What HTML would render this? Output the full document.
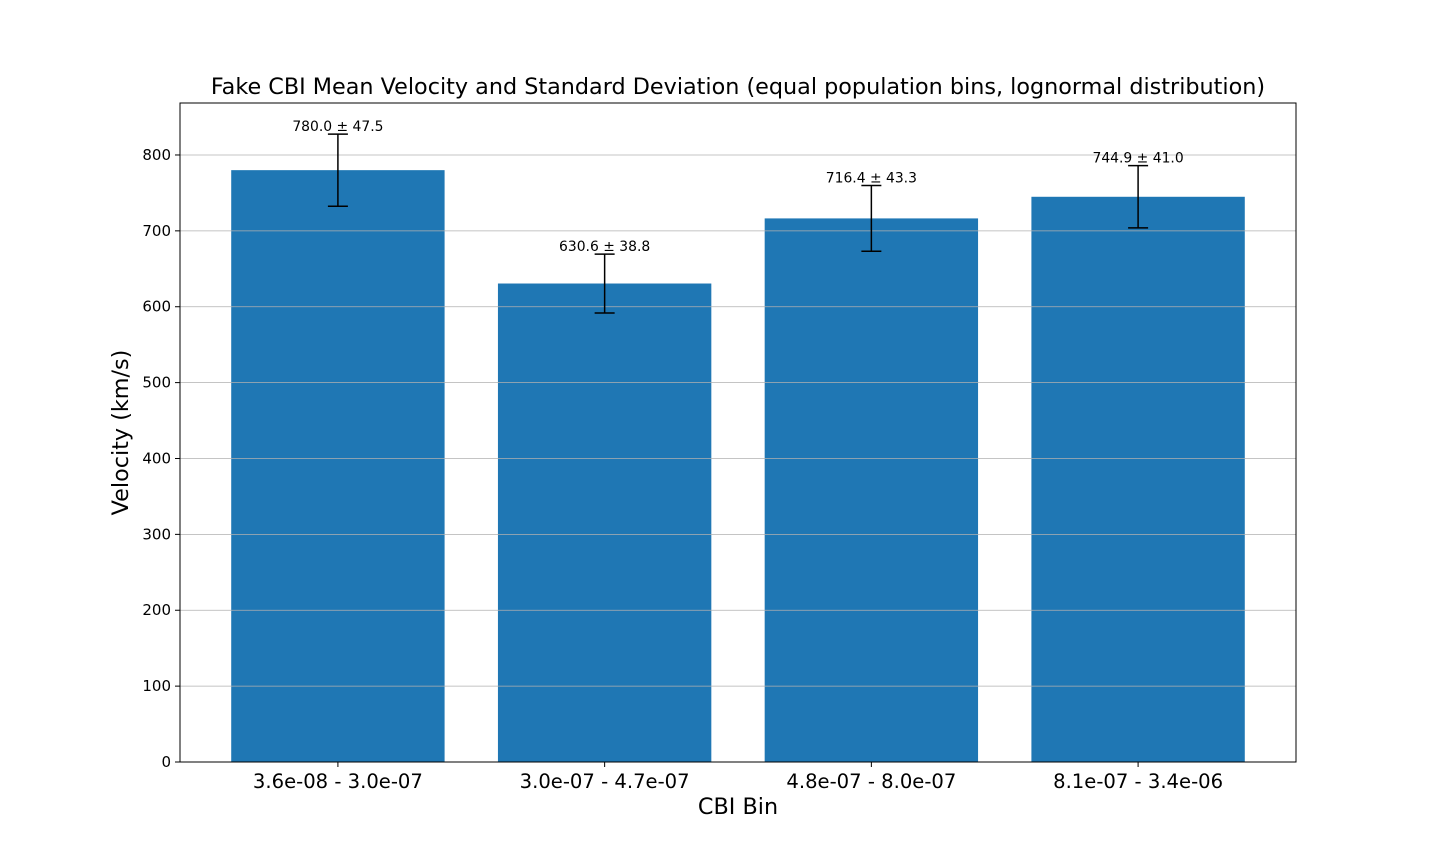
<!DOCTYPE html>
<html><head><meta charset="utf-8"><style>
html,body{margin:0;padding:0;background:#fff;}
svg text{font-family:"DejaVu Sans","Liberation Sans",sans-serif;}
</style></head><body>
<svg id="chart" width="1440" height="856" xmlns="http://www.w3.org/2000/svg"></svg>
<script>
const categories = ["3.6e-08 - 3.0e-07","3.0e-07 - 4.7e-07","4.8e-07 - 8.0e-07","8.1e-07 - 3.4e-06"];
const means = [780.0, 630.6, 716.4, 744.9];
const stds = [47.5, 38.8, 43.3, 41.0];
const yTicks = [0,100,200,300,400,500,600,700,800];

const L=180,R=1296,T=103,B=762;
const yMax=868.5, xMin=-0.592, xMax=3.592;
const y=v=>B-(v/yMax)*(B-T);
const x=v=>L+(v-xMin)/(xMax-xMin)*(R-L);
const svg=document.getElementById('chart');
const NS='http://www.w3.org/2000/svg';
function mk(tag,attrs,parent){const e=document.createElementNS(NS,tag);for(const k in attrs)e.setAttribute(k,attrs[k]);(parent||svg).appendChild(e);return e;}

categories.forEach((c,i)=>{
  const bw=0.8*(x(1)-x(0));
  const r=mk('rect',{x:x(i)-bw/2,y:y(means[i]),width:bw,height:B-y(means[i]),fill:'#1f77b4'});
  
  
});
yTicks.forEach(t=>{
  const g=mk('line',{x1:L,x2:R,y1:y(t),y2:y(t),stroke:'#b0b0b0','stroke-width':0.8});
  
  
});
categories.forEach((c,i)=>{
  const cx=x(i),top=y(means[i]+stds[i]),bot=y(means[i]-stds[i]);
  const eg=mk('g',{stroke:'#000','stroke-width':1.5});
  
  
  mk('line',{x1:cx,x2:cx,y1:top,y2:bot},eg);
  mk('line',{x1:cx-10,x2:cx+10,y1:top,y2:top},eg);
  mk('line',{x1:cx-10,x2:cx+10,y1:bot,y2:bot},eg);
  const t=mk('text',{x:cx,y:top-3,'text-anchor':'middle','font-size':13.9});
  t.textContent=means[i].toFixed(1)+' ± '+stds[i].toFixed(1);
  
  
  const xt=mk('line',{x1:cx,x2:cx,y1:B,y2:B+5,stroke:'#000','stroke-width':1});
  
  
  const xl=mk('text',{x:cx,y:B+26,'text-anchor':'middle','font-size':19.6});
  xl.textContent=c;
  
  
});
yTicks.forEach(t=>{
  const tk=mk('line',{x1:L-5,x2:L,y1:y(t),y2:y(t),stroke:'#000','stroke-width':1});
  
  
  const tl=mk('text',{x:L-9,y:y(t)+5,'text-anchor':'end','font-size':15});
  tl.textContent=t;
  
  
});
const fr=mk('rect',{x:L,y:T,width:R-L,height:B-T,fill:'none',stroke:'#000','stroke-width':1});


const tt=mk('text',{x:(L+R)/2,y:94,'text-anchor':'middle','font-size':22.3});
tt.textContent='Fake CBI Mean Velocity and Standard Deviation (equal population bins, lognormal distribution)';


const xa=mk('text',{x:(L+R)/2,y:814,'text-anchor':'middle','font-size':22.3});
xa.textContent='CBI Bin';


const ya=mk('text',{x:128,y:(T+B)/2,'text-anchor':'middle','font-size':22.3,transform:'rotate(-90 128 '+((T+B)/2)+')'});
ya.textContent='Velocity (km/s)';


</script>
</body></html>
